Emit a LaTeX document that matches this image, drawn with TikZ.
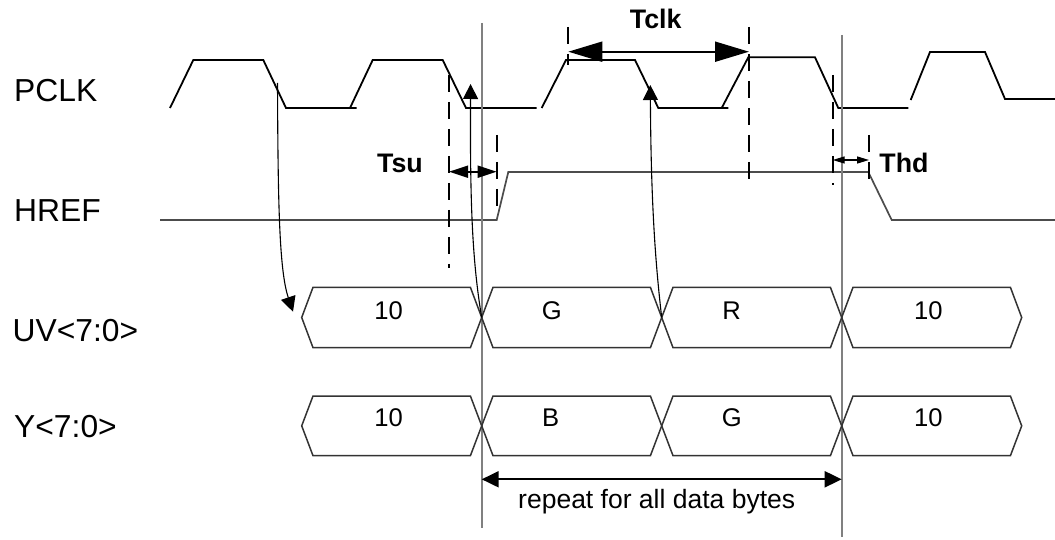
\documentclass[tikz,border=0pt]{standalone}
\usepackage{fontspec}
\setmainfont{Liberation Sans}
\usetikzlibrary{arrows.meta}
\begin{document}
\begin{tikzpicture}[x=1pt,y=-1pt,
  clk/.style={line width=1.8pt, black, line join=miter},
  sig/.style={line width=1.7pt, color=black!70},
  guide/.style={line width=1.7pt, color=black!50},
  dashln/.style={line width=2pt, black, dash pattern=on 17pt off 10pt},
  bus/.style={line width=1.5pt, color=black!80, line join=miter},
  lbl/.style={font=\fontsize{31.8}{38}\selectfont, anchor=base west, inner sep=0pt},
  tlbl/.style={font=\fontsize{26.8}{32}\selectfont\bfseries, anchor=base, inner sep=0pt},
  dlbl/.style={font=\fontsize{25.6}{30}\selectfont, anchor=base, inner sep=0pt},
  ptr/.style={line width=1.1pt, black, -{Triangle[length=15pt,width=15pt]}},
]
\useasboundingbox (0,0) rectangle (1055,540);

% signal names
\node[lbl] (pclk) at (14,101.7) {PCLK};
\node[lbl] (href) at (14,221.7) {HREF};
\node[lbl] (uv) at (12.5,341.7) {UV<7:0>};
\node[lbl] (ybus) at (14,437.3) {Y<7:0>};

% PCLK
\draw[clk] (170,108) -- (193.3,60) -- (263.3,60) -- (286,108) -- (356.7,108);
\draw[clk] (350,108) -- (372.7,60) -- (442.7,60) -- (466,108) -- (536.7,108);
\draw[clk] (541.7,108) -- (566,60) -- (635,60) -- (658.3,108) -- (728.3,108);
\draw[clk] (721.7,108) -- (748.3,57.3) -- (815,57.3) -- (838.3,108) -- (908.3,108);
\draw[clk] (910.7,100) -- (930,52) -- (985,52) -- (1005,99) -- (1055,99);

% HREF
\draw[sig] (160,220) -- (496.7,220) -- (508.3,172) -- (868.3,172) -- (891.7,220) -- (1055,220);

% guide lines
\coordinate (gAt) at (481.7,23);
\coordinate (gAb) at (481.7,528);
\coordinate (gBt) at (841.7,35);
\coordinate (gBb) at (841.7,537);
\draw[guide] (gAt) -- (gAb);
\draw[guide] (gBt) -- (gBb);

% buses
\foreach \a/\b in {301.7/481.7, 481.7/661.7, 661.7/841.7, 841.7/1021.7} {
  \foreach \yt/\yb in {287.3/347.7, 396/455.7} {
    \draw[bus] ({\a},{(\yt+\yb)/2}) -- ({\a+11.3},\yt) -- ({\b-11.3},\yt)
      -- ({\b},{(\yt+\yb)/2}) -- ({\b-11.3},\yb) -- ({\a+11.3},\yb) -- cycle;
  }
}

% bus values
\node[dlbl] (u1) at (388.7,319.3) {10};
\node[dlbl] (u2) at (551.7,319.3) {G};
\node[dlbl] (u3) at (731.7,319.3) {R};
\node[dlbl] (u4) at (928.3,319.3) {10};
\node[dlbl] (y1) at (388.7,426.7) {10};
\node[dlbl] (y2) at (550.7,426.7) {B};
\node[dlbl] (y3) at (731.7,426.7) {G};
\node[dlbl] (y4) at (928.3,426.7) {10};

% dashed markers
\coordinate (d1t) at (449,75);    \coordinate (d1b) at (449,268);
\coordinate (d2t) at (496.7,135); \coordinate (d2b) at (496.7,207);
\coordinate (d3t) at (568.3,27);  \coordinate (d3b) at (568.3,65);
\coordinate (d4t) at (749,27);    \coordinate (d4b) at (749,185);
\coordinate (d5t) at (832.7,75);  \coordinate (d5b) at (832.7,185);
\coordinate (d6t) at (869,135);   \coordinate (d6b) at (869,185);
\foreach \d in {1,...,6} { \draw[dashln] (d\d t) -- (d\d b); }

% timing labels
\node[tlbl] (tsu) at (400,172.7) {Tsu};
\node[tlbl] (tclk) at (655.7,28.3) {Tclk};
\node[tlbl] (thd) at (904,172.7) {Thd};

% dimension arrows
\coordinate (tsuL) at (449,171.7);   \coordinate (tsuR) at (496.7,171.7);
\coordinate (tclkL) at (568.3,51.7); \coordinate (tclkR) at (749,51.7);
\coordinate (thdL) at (832.7,160);   \coordinate (thdR) at (869,160);
\coordinate (repL) at (481.7,479.3); \coordinate (repR) at (841.7,479.3);
\draw[line width=1.7pt, {Triangle[length=19pt,width=12pt]}-{Triangle[length=19pt,width=12pt]}] (tsuL) -- (tsuR);
\draw[line width=2pt, {Triangle[length=34pt,width=20pt]}-{Triangle[length=34pt,width=20pt]}] (tclkL) -- (tclkR);
\draw[line width=1.4pt, {Triangle[length=12pt,width=7pt]}-{Triangle[length=12pt,width=7pt]}] (thdL) -- (thdR);
\draw[line width=2pt, {Triangle[length=17pt,width=16pt]}-{Triangle[length=17pt,width=16pt]}] (repL) -- (repR);
\node[font=\fontsize{26.5}{32}\selectfont, anchor=base, inner sep=0pt] (rep) at (656.7,508.3) {repeat for all data bytes};

% causal curves
\coordinate (c1s) at (277.5,83);    \coordinate (c1e) at (293,311.7);
\coordinate (c2s) at (481.7,317.5); \coordinate (c2e) at (470.6,84);
\coordinate (c3s) at (661.7,317.5); \coordinate (c3e) at (650.3,85);
\draw[ptr] (c1s) .. controls (278,200) and (279,270) .. (c1e);
\draw[ptr] (c2s) .. controls (472,260) and (470,200) .. (c2e);
\draw[ptr] (c3s) .. controls (655,260) and (651,200) .. (c3e);
\end{tikzpicture}
\end{document}
